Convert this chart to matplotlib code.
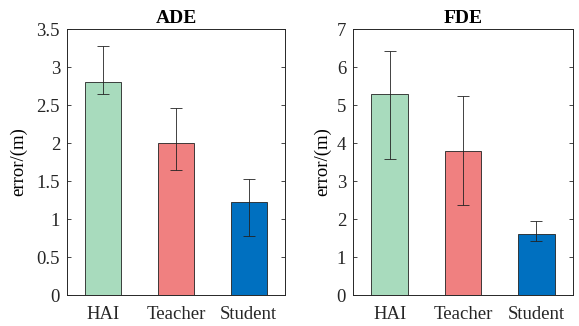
import numpy as np
import matplotlib.pyplot as plt

plt.rcParams['font.family'] = ['Liberation Serif', 'DejaVu Serif']

# data
methods = ['HAI', 'Teacher', 'Student']
ade = [2.80, 2.00, 1.22]
ade_upper = [3.27, 2.46, 1.52]
ade_lower = [2.64, 1.65, 0.78]
fde = [5.30, 3.80, 1.60]
fde_upper = [6.42, 5.24, 1.95]
fde_lower = [3.57, 2.37, 1.42]
colors = ['#a8dbbd', '#f08080', '#0070c0']

fig = plt.figure(figsize=(5.79, 3.26), dpi=100)

panels = [
    ('ADE', ade, ade_lower, ade_upper, [67, 29, 285, 295], 3.5, np.arange(0, 3.51, 0.5), 7),
    ('FDE', fde, fde_lower, fde_upper, [353, 29, 573, 295], 7, np.arange(0, 7.1, 1), 4),
]

W, H = 579, 326
for title, vals, lo, hi, box, ymax, ticks, lpad in panels:
    x0, y0, x1, y1 = box
    ax = fig.add_axes([x0 / W, 1 - y1 / H, (x1 - x0) / W, (y1 - y0) / H])
    pos = np.arange(1, len(methods) + 1)
    vals = np.array(vals)
    err = np.array([vals - np.array(lo), np.array(hi) - vals])
    ax.bar(pos, vals, width=0.5, color=colors, edgecolor='#222222', linewidth=0.6)
    ax.errorbar(pos, vals, yerr=err, fmt='none', ecolor='#222222',
                elinewidth=0.6, capsize=4, capthick=0.6)
    ax.set_xlim(0.5, 3.5)
    ax.set_ylim(0, ymax)
    ax.set_yticks(ticks)
    ax.set_yticklabels(['%g' % t for t in ticks])
    ax.set_xticks(pos)
    ax.set_xticklabels(methods)
    ax.tick_params(direction='in', top=True, right=True, labelsize=13.5,
                   length=3, width=0.6, colors='#262626', pad=5)
    ax.tick_params(axis='x', top=False, bottom=False, pad=8)
    for s in ax.spines.values():
        s.set_linewidth(0.7)
        s.set_color('#262626')
    ax.set_ylabel('error/(m)', fontsize=13.5, labelpad=lpad)
    ax.set_title(title, fontsize=14, fontweight='bold', pad=4)

fig.savefig('out.png', dpi=100)
